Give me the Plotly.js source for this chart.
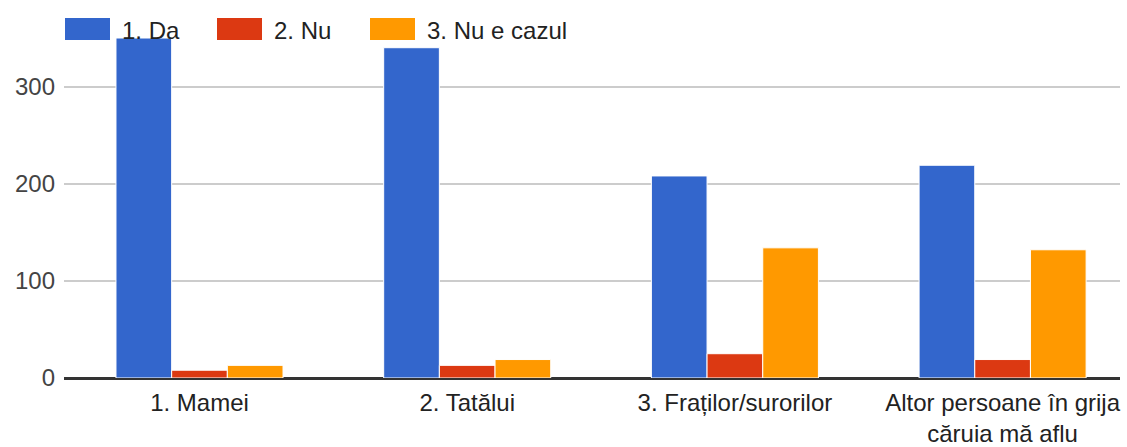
<!DOCTYPE html>
<html>
<head>
<meta charset="utf-8">
<script src="https://cdn.plot.ly/plotly-3.0.1.min.js"></script>
<style>
  html, body { margin: 0; padding: 0; background: #fff; }
  #chart { width: 1127px; height: 447px; }
</style>
</head>
<body>
<div id="chart"></div>
<script>
// ---- data ----
const categories = ["1. Mamei", "2. Tatălui", "3. Fraților/surorilor", "Altor persoane în grija<br>căruia mă aflu"];
const seriesNames = ["1. Da", "2. Nu", "3. Nu e cazul"];
const valuesDa = [350, 340, 208, 219];
const valuesNu = [8, 13, 25, 19];
const valuesNuECazul = [13, 19, 134, 132];
const yTickValues = [0, 100, 200, 300];
const yTickLabels = ["0", "100", "200", "300"];
const colors = ["#3366cc", "#dc3912", "#ff9900"];

const seriesValues = [valuesDa, valuesNu, valuesNuECazul];

// ---- geometry helpers (layout only) ----
const W = 1127, H = 447;
const mL = 64, mR = 7, mT = 38, mB = 69;
const plotW = W - mL - mR, plotH = H - mT - mB;
const px2x = p => (p - mL) / plotW;
const px2y = p => (H - mB - p) / plotH;

const traces = seriesNames.map((name, i) => ({
  type: "bar",
  name: name,
  x: categories,
  y: seriesValues[i],
  marker: { color: colors[i], line: { color: "#ffffff", width: 1 } },
  hoverinfo: "x+y+name",
  showlegend: false
}));

// custom legend with large swatches
const legendSw = [[65, 110], [217, 262], [370, 415]];
const shapes = [];
const annotations = [];
seriesNames.forEach((name, i) => {
  shapes.push({
    type: "rect", xref: "paper", yref: "paper",
    x0: px2x(legendSw[i][0]), x1: px2x(legendSw[i][1]),
    y0: px2y(40), y1: px2y(18),
    fillcolor: colors[i], line: { width: 0 }, layer: "above"
  });
  annotations.push({
    xref: "paper", yref: "paper",
    x: px2x(legendSw[i][1] + 10), y: px2y(30),
    xanchor: "left", yanchor: "middle",
    text: name, showarrow: false,
    font: { family: "Liberation Sans, Arial, sans-serif", size: 24, color: "#222222" }
  });
});

const catW = 267.7, cat0 = 199.5;
const layout = {
  width: W, height: H,
  margin: { l: mL, r: mR, t: mT, b: mB, pad: 0 },
  paper_bgcolor: "#ffffff",
  plot_bgcolor: "#ffffff",
  barmode: "group",
  bargap: 0.376,
  bargroupgap: 0,
  font: { family: "Liberation Sans, Arial, sans-serif", size: 24, color: "#222222" },
  xaxis: {
    type: "category",
    range: [(mL - cat0) / catW, (W - mR - cat0) / catW],
    showgrid: false, zeroline: false, showline: false,
    ticks: "", ticklabelstandoff: 8,
    tickfont: { size: 24, color: "#222222" },
    fixedrange: true
  },
  yaxis: {
    range: [0, 350],
    tickvals: yTickValues, ticktext: yTickLabels,
    showgrid: true, gridcolor: "#cccccc", gridwidth: 2,
    zeroline: true, zerolinecolor: "#333333", zerolinewidth: 3,
    showline: false, ticks: "", ticklabelstandoff: 8,
    tickfont: { size: 24, color: "#444444" },
    fixedrange: true
  },
  shapes: shapes,
  annotations: annotations
};

Plotly.newPlot("chart", traces, layout, { displayModeBar: false, staticPlot: true });
</script>
</body>
</html>
